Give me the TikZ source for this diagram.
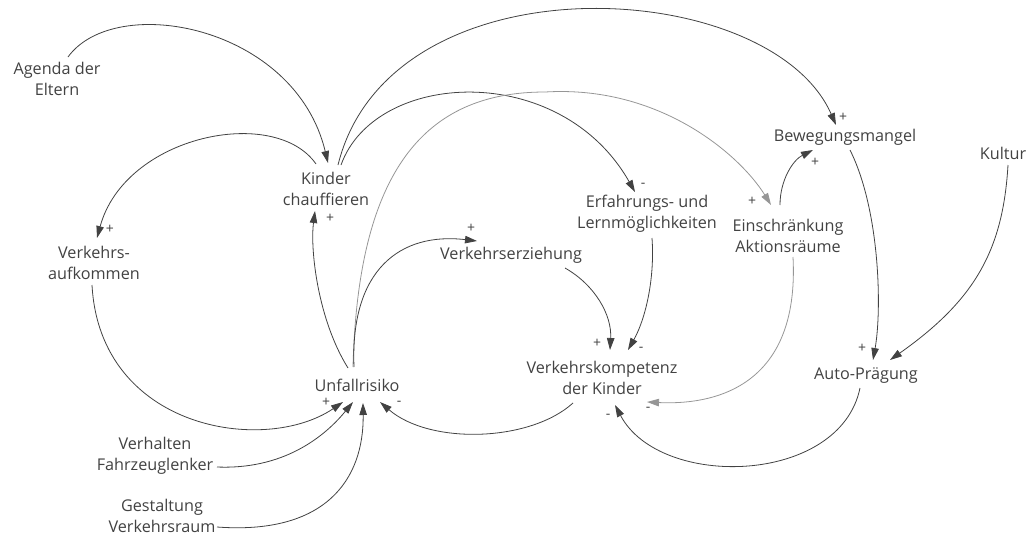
\documentclass[tikz,border=0pt]{standalone}
\usepackage{fontspec}
\setmainfont{Open Sans}
\usetikzlibrary{calc,arrows.meta}
\definecolor{ink}{RGB}{66,66,66}
\definecolor{faintink}{RGB}{150,150,150}
\tikzset{
  lbl/.style={font=\fontsize{16.2}{21}\selectfont, text=ink, align=center, inner sep=0pt},
  sgn/.style={font=\fontsize{14}{14}\selectfont, text=ink, inner sep=0pt},
  link/.style={draw=ink, line width=0.8pt, -{Triangle[length=12pt,width=7.5pt]}},
  faintlink/.style={link, draw=faintink},
}
\begin{document}
\begin{tikzpicture}[x=1pt,y=-1pt]
\useasboundingbox (0,0) rectangle (1034,536);

% variables
\node[lbl] (ag) at (57,78.5)  {Agenda der\\Eltern};
\node[lbl] (kc) at (326,188.5) {Kinder\\chauffieren};
\node[lbl] (va) at (94,263)   {Verkehrs-\\aufkommen};
\node[lbl] (ur) at (357,385)  {Unfallrisiko};
\node[lbl] (vf) at (155,456)  {Verhalten\\Fahrzeuglenker};
\node[lbl] (gv) at (162,516)  {Gestaltung\\Verkehrsraum};
\node[lbl] (ve) at (511,255)  {Verkehrserziehung};
\node[lbl] (vk) at (602,378)  {Verkehrskompetenz\\der Kinder};
\node[lbl] (el) at (647,214)  {Erfahrungs- und\\Lernmöglichkeiten};
\node[lbl] (ea) at (788,235.5) {Einschränkung\\Aktionsräume};
\node[lbl] (bm) at (845,137)  {Bewegungsmangel};
\node[lbl] (ku) at (1003,153) {Kultur};
\node[lbl] (ap) at (866,376)  {Auto-Prägung};

% causal links
\draw[link] ($(ag)+(11,-21.5)$) .. controls (115,-8) and (295,25) .. ($(kc)+(2,-25.5)$);
\draw[link] ($(kc)+(-10,-24.5)$) .. controls (275,105) and (125,135) .. ($(va)+(3,-25)$);
\draw[link] ($(kc)+(12,-23.5)$) .. controls (390,-45) and (770,-25) .. ($(bm)+(-9,-12)$);
\draw[link] ($(kc)+(15,-23.5)$) .. controls (375,70) and (560,60) .. ($(el)+(-12,-22)$);
\draw[faintlink] ($(ur)+(-4,-18)$) .. controls (358,170) and (425,92) .. (545,92)
                 .. controls (660,85) and (740,155) .. ($(ea)+(-17,-30.5)$);
\draw[link] ($(ea)+(-8,-30.5)$) .. controls (780,180) and (793,160) .. ($(bm)+(-32,13)$);
\draw[faintlink] ($(ea)+(5,21.5)$) .. controls (800,390) and (710,405) .. ($(vk)+(45,24)$);
\draw[link] ($(el)+(5,24)$) .. controls (655,280) and (645,320) .. ($(vk)+(26,-28)$);
\draw[link] ($(ve)+(54,13)$) .. controls (595,285) and (612,315) .. ($(vk)+(8,-28)$);
\draw[link] ($(bm)+(5,13)$) .. controls (880,210) and (882,310) .. ($(ap)+(7,-16)$);
\draw[link] ($(ku)+(5,12)$) .. controls (1003,250) and (975,300) .. ($(ap)+(24,-16)$);
\draw[link] ($(ap)+(-6,12)$) .. controls (840,485) and (660,490) .. ($(vk)+(13,27)$);
\draw[link] ($(vk)+(-29,25)$) .. controls (530,442) and (430,445) .. ($(ur)+(23,17)$);
\draw[link] ($(va)+(-2,22)$) .. controls (100,430) and (265,455) .. ($(ur)+(-14,17)$);
\draw[link] ($(vf)+(62,11)$) .. controls (290,470) and (330,430) .. ($(ur)+(-4,17)$);
\draw[link] ($(gv)+(55,11)$) .. controls (325,535) and (364,480) .. ($(ur)+(6,18)$);
\draw[link] ($(ur)+(-9,-17)$) .. controls (318,320) and (310,250) .. ($(kc)+(-11,22.5)$);
\draw[link] ($(ur)+(-3,-18)$) .. controls (350,270) and (400,232) .. ($(ve)+(-34,-14)$);

% polarities
\node[sgn] (s1)  at (110,229) {+};
\node[sgn] (s2)  at (330,218) {+};
\node[sgn] (s3)  at (471,228) {+};
\node[sgn] (s4)  at (643,185) {-};
\node[sgn] (s5)  at (752,201) {+};
\node[sgn] (s6)  at (843,117) {+};
\node[sgn] (s7)  at (815,162) {+};
\node[sgn] (s8)  at (597,343) {+};
\node[sgn] (s9)  at (641,349) {-};
\node[sgn] (s10) at (862,348) {+};
\node[sgn] (s11) at (648,409) {-};
\node[sgn] (s12) at (608,416) {-};
\node[sgn] (s13) at (326,402) {+};
\node[sgn] (s14) at (399,403) {-};
\end{tikzpicture}
\end{document}
